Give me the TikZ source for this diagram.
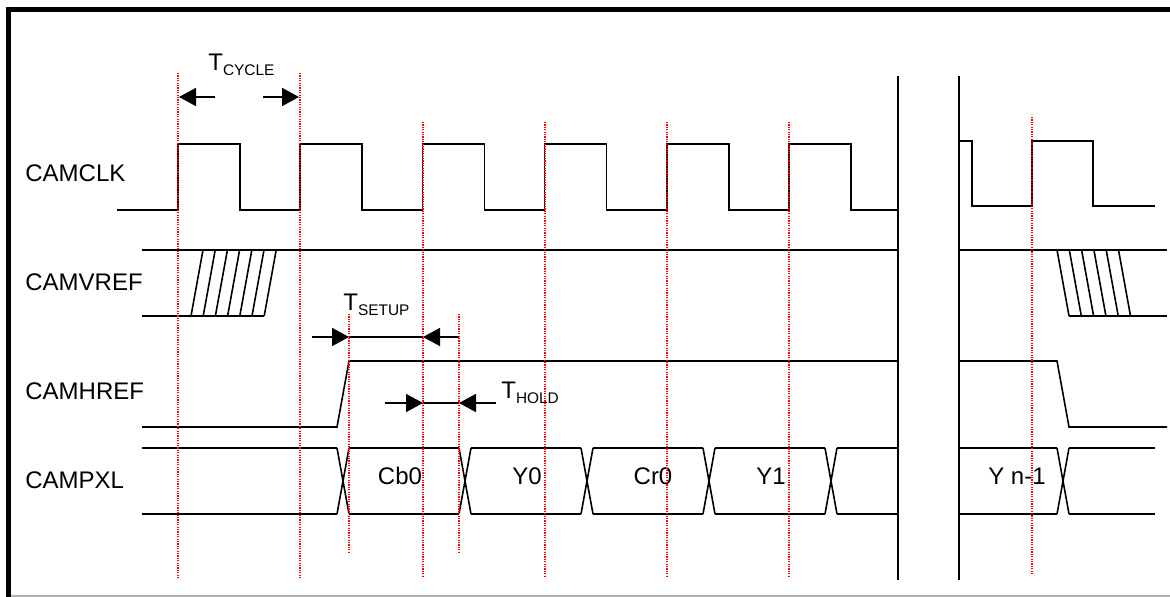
\documentclass[tikz,border=0pt]{standalone}
\usepackage{fontspec}
\setmainfont{Liberation Sans}
\usepackage{tikz}
\usetikzlibrary{arrows.meta}

\newcommand{\tsub}[1]{T\raisebox{-2.5pt}{\fontsize{7.7}{9}\selectfont #1}}

\begin{document}
\begin{tikzpicture}[
    x=0.5pt, y=-0.5pt,
    signal/.style={line width=0.8pt, line join=miter},
    guide/.style={red, dash pattern=on 0.6pt off 0.6pt, line width=0.7pt},
    siglabel/.style={anchor=base west, inner sep=0pt, font=\fontsize{12}{14}\selectfont},
    datatext/.style={anchor=base, inner sep=0pt, font=\fontsize{12}{14}\selectfont},
    dim/.style={-{Triangle[length=8.5pt, width=9pt]}, line width=0.8pt}
]
    \useasboundingbox (0,0) rectangle (1170,597);

    % Frame
    \draw[gray!60, line width=0.6pt] (8,596) -- (1170,596);
    \draw[line width=2.5pt] (8,597) -- (8,9.5) -- (1170,9.5);

    % Signal names
    \node[siglabel] (clk) at (25,182) {CAMCLK};
    \node[siglabel] (vref) at (25,291) {CAMVREF};
    \node[siglabel] (href) at (25,400) {CAMHREF};
    \node[siglabel] (pxl) at (25,488) {CAMPXL};

    % CAMCLK
    \draw[signal] (117,210) foreach \k in {0,...,5} {
        -- ({178+122.2*\k},210) -- ({178+122.2*\k},144)
        -- ({240+122.2*\k},144) -- ({240+122.2*\k},210)} -- (898,210);
    \draw[signal] (959,141) -- (972,141) -- (972,206) -- (1032,206)
        -- (1032,141) -- (1093,141) -- (1093,206) -- (1155,206);

    % CAMVREF
    \draw[signal] (142,250) -- (898,250);
    \draw[signal] (142,316) -- (264,316);
    \foreach \k in {0,...,6}
        \draw[signal] ({191+12.2*\k},316) -- ({203+12.2*\k},250);
    \draw[signal] (959,250) -- (1167,250);
    \draw[signal] (1069,316) -- (1167,316);
    \foreach \k in {0,...,5}
        \draw[signal] ({1057+12.3*\k},250) -- ({1069+12.3*\k},316);

    % CAMHREF
    \draw[signal] (142,427) -- (337,427) -- (349,361) -- (898,361);
    \draw[signal] (959,361) -- (1057,361) -- (1069,427) -- (1167,427);

    % CAMPXL
    \foreach \a/\b in {142/337, 349/459, 471/581, 593/703, 715/825, 837/898, 959/1057, 1069/1155}
        \draw[signal] (\a,448) -- (\b,448) (\a,514) -- (\b,514);
    \foreach \c in {343,465,587,709,831,1063}
        \draw[signal] (\c-6,448) -- (\c+6,514) (\c-6,514) -- (\c+6,448);
    \node[datatext] (cb0) at (400,485) {Cb0};
    \node[datatext] (y0) at (527,485) {Y0};
    \node[datatext] (cr0) at (653,485) {Cr0};
    \node[datatext] (y1) at (771,485) {Y1};
    \node[datatext] (yn) at (1017,485) {Y n-1};

    % Break
    \draw[signal] (898,76) -- (898,580);
    \draw[signal] (959,76) -- (959,580);

    % Timing marks
    \node[siglabel] (tcycle) at (208,71) {\tsub{CYCLE}};
    \draw[dim] (215,97) -- (179,97);
    \draw[dim] (263,97) -- (299,97);

    \node[siglabel] (tsetup) at (343,311) {\tsub{SETUP}};
    \draw[dim] (312,337) -- (349,337);
    \draw[signal] (349,337) -- (423,337);
    \draw[dim] (459,337) -- (423,337);

    \node[siglabel] (thold) at (501,399) {\tsub{HOLD}};
    \draw[dim] (385,403) -- (423,403);
    \draw[signal] (423,403) -- (459,403);
    \draw[dim] (496,403) -- (459,403);

    % Guides
    \foreach \x in {178,300}
        \draw[guide] (\x,73) -- (\x,578);
    \foreach \x in {423,545,667,789}
        \draw[guide] (\x,122) -- (\x,578);
    \foreach \x in {349,459}
        \draw[guide] (\x,314) -- (\x,553);
    \draw[guide] (1032,117) -- (1032,575);

\end{tikzpicture}
\end{document}
